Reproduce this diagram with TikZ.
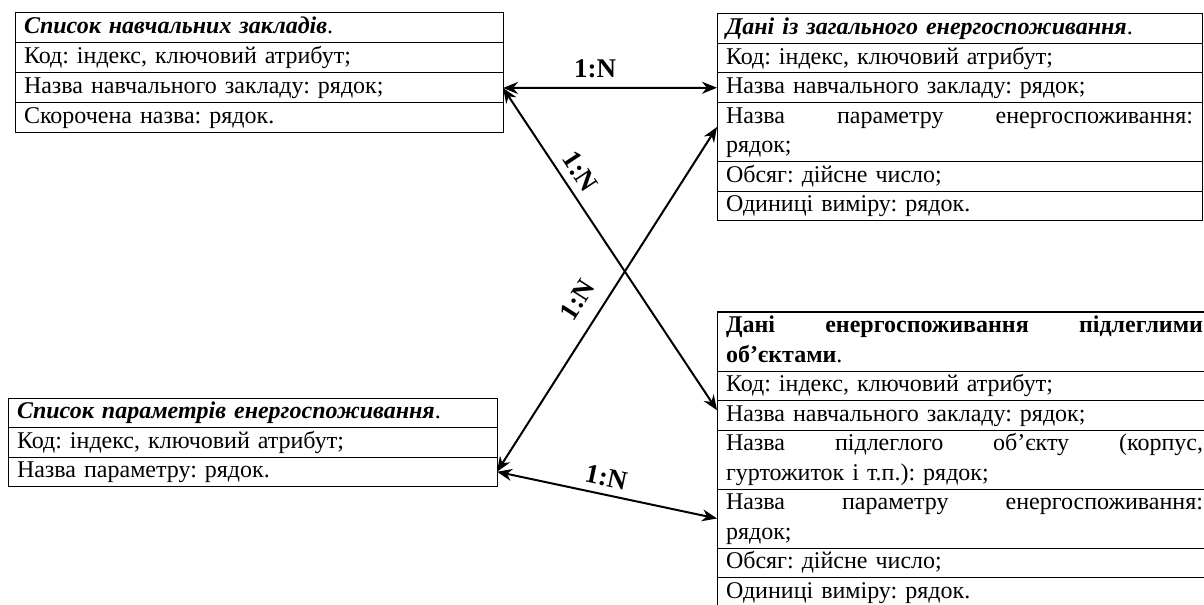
\documentclass[tikz,border=0pt]{standalone}
\usepackage{fontspec}
\setmainfont{Liberation Serif}
\usetikzlibrary{arrows.meta}
\newcommand\rowfont{\fontsize{24bp}{29.5bp}\selectfont\frenchspacing}
\newcommand\lblfont{\fontsize{27bp}{30bp}\selectfont\bfseries}
\tikzset{
  row/.style={draw, line width=1bp, rectangle, anchor=north west, outer sep=0pt,
    inner xsep=9bp, inner ysep=0pt, minimum height=29.5bp, align=left, font=\rowfont},
  tworow/.style={row, minimum height=59bp},
  conn/.style={{Stealth[length=15bp,width=12bp]}-{Stealth[length=15bp,width=12bp]}, line width=2bp},
  lbl/.style={font=\lblfont, inner sep=3bp},
}
\begin{document}
\begin{tikzpicture}[x=1bp,y=-1bp]
\useasboundingbox (0,0) rectangle (1204,605);
\clip (0,0) rectangle (1204,605);
% Box 1
\node[row, text width=470bp, minimum height=30bp] (b1r1) at (15,13) {\strut\textbf{\textit{Список навчальних закладів}}.};
\node[row, text width=470bp, minimum height=30bp] (b1r2) at (b1r1.south west) {\strut Код: індекс, ключовий атрибут;};
\node[row, text width=470bp, minimum height=30bp] (b1r3) at (b1r2.south west) {\strut Назва навчального закладу: рядок;};
\node[row, text width=470bp, minimum height=30bp] (b1r4) at (b1r3.south west) {\strut Скорочена назва: рядок.};
% Box 2
\node[row, text width=467bp] (b2r1) at (717,14) {\strut\textbf{\textit{Дані із загального енергоспоживання}}.};
\node[row, text width=467bp] (b2r2) at (b2r1.south west) {\strut Код: індекс, ключовий атрибут;};
\node[row, text width=467bp] (b2r3) at (b2r2.south west) {\strut Назва навчального закладу: рядок;};
\node[tworow, text width=467bp] (b2r4) at (b2r3.south west) {\strut Назва\hfill параметру\hfill енергоспоживання:\\\strut рядок;};
\node[row, text width=467bp] (b2r5) at (b2r4.south west) {\strut Обсяг: дійсне число;};
\node[row, text width=467bp] (b2r6) at (b2r5.south west) {\strut Одиниці виміру: рядок.};
% Box 3
\node[row, text width=471bp] (b3r1) at (8,398) {\strut\textbf{\textit{Список параметрів енергоспоживання}}.};
\node[row, text width=471bp] (b3r2) at (b3r1.south west) {\strut Код: індекс, ключовий атрибут;};
\node[row, text width=471bp] (b3r3) at (b3r2.south west) {\strut Назва параметру: рядок.};
% Box 4
\node[tworow, text width=477bp] (b4r1) at (717,312) {\strut\textbf{Дані\hfill енергоспоживання\hfill підлеглими}\\\strut\textbf{об’єктами}.};
\node[row, text width=477bp] (b4r2) at (b4r1.south west) {\strut Код: індекс, ключовий атрибут;};
\node[row, text width=477bp] (b4r3) at (b4r2.south west) {\strut Назва навчального закладу: рядок;};
\node[tworow, text width=477bp] (b4r4) at (b4r3.south west) {\strut Назва\hfill підлеглого\hfill об’єкту\hfill (корпус,\\\strut гуртожиток і т.п.): рядок;};
\node[tworow, text width=477bp] (b4r5) at (b4r4.south west) {\strut Назва\hfill параметру\hfill енергоспоживання:\\\strut рядок;};
\node[row, text width=477bp] (b4r6) at (b4r5.south west) {\strut Обсяг: дійсне число;};
\node[row, text width=477bp] (b4r7) at (b4r6.south west) {\strut Одиниці виміру: рядок.};
% Connectors
\draw[conn] (b1r3.east) -- node[lbl, above=6bp, pos=0.43] (l1) {1:N} (b2r3.west);
\draw[conn] (b1r3.east) -- node[lbl, sloped, above=5bp, pos=0.29] (l2) {1:N} ([yshift=5bp]b4r3.west);
\draw[conn] (b3r3.east) -- node[lbl, sloped, above=12bp, pos=0.46] (l3) {1:N} ([yshift=5bp]b2r4.west);
\draw[conn] (b3r3.east) -- node[lbl, sloped, above=4bp, pos=0.48] (l4) {1:N} (b4r5.west);
\end{tikzpicture}
\end{document}
